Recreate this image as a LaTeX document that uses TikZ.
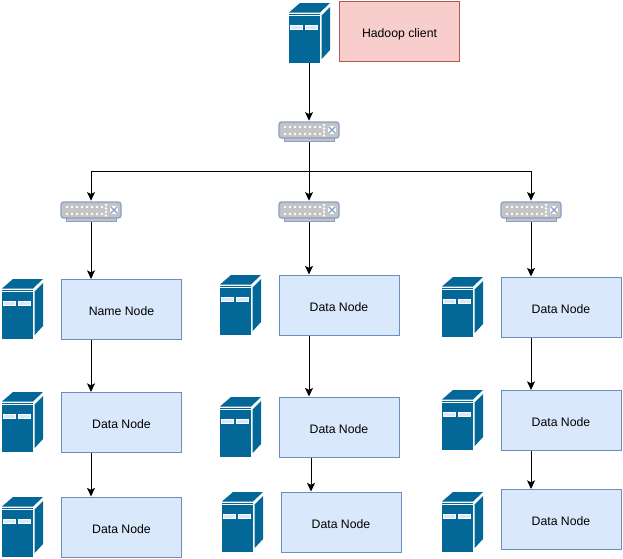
\documentclass[tikz,border=0pt]{standalone}
\usepackage{fontspec}
\setmainfont{Liberation Sans}
\usetikzlibrary{shapes,arrows.meta}
\definecolor{srvblue}{HTML}{036897}
\definecolor{swgrey}{HTML}{C4C4C4}
\definecolor{swedge}{HTML}{8A9FC8}
\definecolor{nodefill}{HTML}{DAE8FC}
\definecolor{nodeedge}{HTML}{6C8EBF}
\definecolor{clientfill}{HTML}{F8CECC}
\definecolor{clientedge}{HTML}{B85450}
\tikzset{
  box/.style={draw=nodeedge, fill=nodefill, line width=0.75pt, minimum width=90pt, minimum height=45pt, inner sep=0pt, text height=9.4pt, text depth=0pt, font=\fontsize{9.2}{11}\selectfont},
  clientbox/.style={box, draw=clientedge, fill=clientfill},
  conn/.style={->, line width=0.75pt},
  server/.pic={
    \node[minimum width=30.75pt, minimum height=45.75pt, inner sep=0pt] (-body) at (20,30.5) {};
    \fill[srvblue] (0,10.5) -- (11,1) -- (41,1) -- (31,10.5) -- cycle;
    \fill[srvblue] (0,11.5) rectangle (31,13);
    \fill[srvblue] (0,14) rectangle (31,60.7);
    \fill[srvblue] (32.7,13.5) -- (41,5) -- (41,48) -- (32.7,57) -- cycle;
    \foreach \sx in {1,16} {
      \draw[white, fill=nodefill, line width=0.6pt] (\sx,23.5) rectangle ++(12.5,4);
    }
  },
  switch/.pic={
    \node[minimum width=45pt, minimum height=15.75pt, inner sep=0pt] (-body) at (30,10.5) {};
    \draw[swedge, fill=swgrey, line width=0.6pt] (5,16) rectangle (55,20.5);
    \draw[swedge, fill=swgrey, line width=1pt, rounded corners=2pt] (0,1) rectangle (60,17);
    \foreach \dx in {6,11,...,41} {
      \fill[white] (\dx,6) circle (1.4);
      \fill[white] (\dx,13) circle (1.4);
    }
    \foreach \dy in {4,7.5,11,14.5} {
      \fill[white] (45,\dy) circle (1.3);
    }
    \fill[white] (49,5) rectangle (57,13);
    \draw[swedge, line width=1pt] (49.5,5.5) -- (56.5,12.5) (56.5,5.5) -- (49.5,12.5);
  },
}
\begin{document}
\begin{tikzpicture}[x=0.75pt, y=-0.75pt, >={Stealth[length=6.5pt, width=6pt, inset=1.5pt]}]
    \useasboundingbox (0,0) rectangle (623,558);
    \fill[white] (0,0) rectangle (623,558);

    \pic (srv0) at (289,2) {server};
    \node[clientbox] (client) at (399.5,31) {Hadoop client};

    \pic (sw0) at (279,121) {switch};
    \pic (sw1) at (61,201) {switch};
    \pic (sw2) at (279,201) {switch};
    \pic (sw3) at (501,201) {switch};
    \coordinate (bus) at (309,171);

    \pic at (2,278) {server};
    \pic at (2,391) {server};
    \pic at (2,496) {server};
    \pic at (220,274) {server};
    \pic at (220,396) {server};
    \pic at (222,491) {server};
    \pic at (442,276) {server};
    \pic at (442,389) {server};
    \pic at (442,491) {server};

    \node[box] (name1) at (121.5,309.5) {Name Node};
    \node[box] (data12) at (121.5,422.5) {Data Node};
    \node[box] (data13) at (121.5,527) {Data Node};
    \node[box] (data21) at (339,305) {Data Node};
    \node[box] (data22) at (339,427) {Data Node};
    \node[box] (data23) at (341,522) {Data Node};
    \node[box] (data31) at (561,307) {Data Node};
    \node[box] (data32) at (561,420.5) {Data Node};
    \node[box] (data33) at (561,519.5) {Data Node};

    \draw[conn] (srv0-body.south) -- (sw0-body.north);
    \draw[conn] (sw0-body.south) -- (sw2-body.north);
    \draw[conn] (bus) -| (sw1-body.north);
    \draw[conn] (bus) -| (sw3-body.north);

    \draw[conn] (sw1-body.south) -- (sw1-body.south |- name1.north);
    \draw[conn] (sw1-body.south |- name1.south) -- (sw1-body.south |- data12.north);
    \draw[conn] (sw1-body.south |- data12.south) -- (sw1-body.south |- data13.north);

    \draw[conn] (sw2-body.south) -- (sw2-body.south |- data21.north);
    \draw[conn] (sw2-body.south |- data21.south) -- (sw2-body.south |- data22.north);
    \draw[conn] (311,0 |- data22.south) -- (311,0 |- data23.north);

    \draw[conn] (sw3-body.south) -- (sw3-body.south |- data31.north);
    \draw[conn] (sw3-body.south |- data31.south) -- (sw3-body.south |- data32.north);
    \draw[conn] (sw3-body.south |- data32.south) -- (sw3-body.south |- data33.north);
\end{tikzpicture}
\end{document}
